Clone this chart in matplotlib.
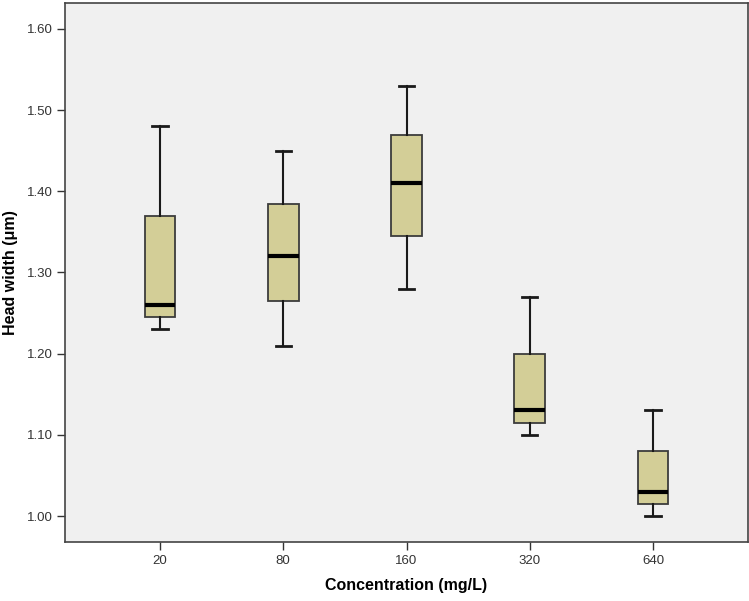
import matplotlib
matplotlib.use("Agg")
import matplotlib.pyplot as plt

plt.rcParams['font.family'] = ['Liberation Sans', 'DejaVu Sans']

# concentration groups and the five-number summaries
concentrations = ['20', '80', '160', '320', '640']
whisker_low = [1.23, 1.21, 1.28, 1.10, 1.00]
q1 = [1.245, 1.265, 1.345, 1.115, 1.015]
median = [1.26, 1.32, 1.41, 1.13, 1.03]
q3 = [1.37, 1.385, 1.47, 1.20, 1.08]
whisker_high = [1.48, 1.45, 1.53, 1.27, 1.13]

stats = []
for i in range(len(concentrations)):
    stats.append({'label': concentrations[i], 'whislo': whisker_low[i], 'q1': q1[i],
                  'med': median[i], 'q3': q3[i], 'whishi': whisker_high[i], 'fliers': []})

fig = plt.figure(figsize=(7.49, 6.01), dpi=100)
ax = fig.add_axes([65 / 749, 59 / 601, 683 / 749, 539 / 601])
ax.set_facecolor('#f0f0f0')

ax.bxp(stats, positions=range(len(stats)), widths=0.25, patch_artist=True,
       showfliers=False,
       boxprops=dict(facecolor='#d3ce97', edgecolor='#3c3c3c', linewidth=1.3),
       medianprops=dict(color='black', linewidth=3),
       whiskerprops=dict(color='#1a1a1a', linewidth=1.5),
       capprops=dict(color='#1a1a1a', linewidth=2))

ax.set_xlim(-0.77, 4.77)
ax.set_ylim(0.968, 1.632)
ax.set_yticks([1.0, 1.1, 1.2, 1.3, 1.4, 1.5, 1.6])
ax.set_yticklabels(['%.2f' % v for v in [1.0, 1.1, 1.2, 1.3, 1.4, 1.5, 1.6]])
ax.set_xticks(range(len(concentrations)))
ax.set_xticklabels(concentrations)
ax.tick_params(axis='both', labelsize=9.5, colors='#333333', length=6, width=1, pad=3)

for s in ax.spines.values():
    s.set_color('#444444')
    s.set_linewidth(1.2)

ax.set_xlabel('Concentration (mg/L)', fontsize=11.5, fontweight='bold', labelpad=8)
ax.set_ylabel('Head width (\u03bcm)', fontsize=11.5, fontweight='bold', labelpad=6)

fig.savefig('out.png', dpi=100, facecolor='white')
